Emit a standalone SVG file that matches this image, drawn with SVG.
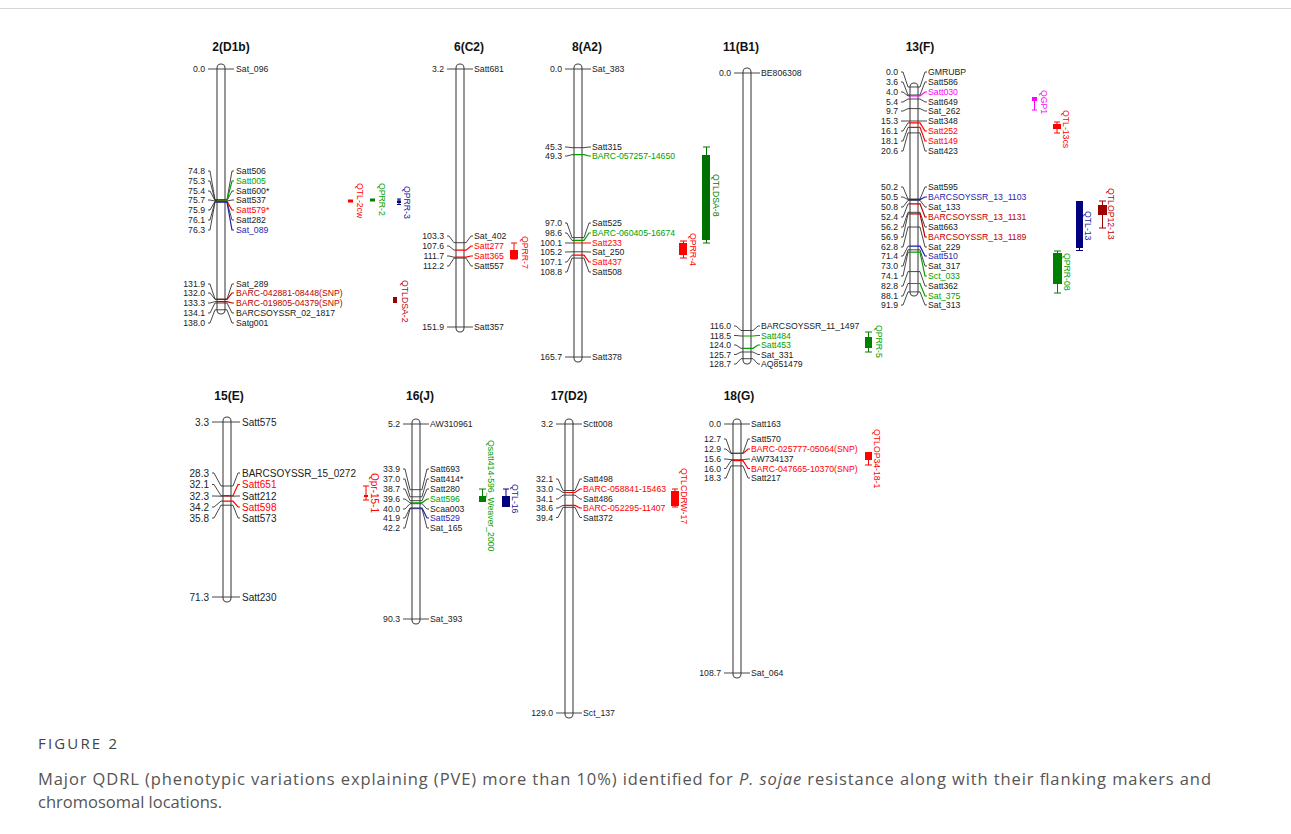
<svg xmlns="http://www.w3.org/2000/svg" width="1291" height="834" viewBox="0 0 1291 834">
<style>
.bg{fill:#fff}
.chr{fill:#fff;stroke:#444;stroke-width:1.1}
.k{fill:none;stroke:#333;stroke-width:0.9}
.g{fill:none;stroke:#00a000;stroke-width:1.2}
.r{fill:none;stroke:#ff0000;stroke-width:1.2}
.b{fill:none;stroke:#1f1fb0;stroke-width:1.2}
.c{fill:none;stroke:#c00000;stroke-width:1.2}
.m{fill:none;stroke:#ff00ff;stroke-width:1.2}
text{font-family:"Liberation Sans",Arial,sans-serif;font-size:8.7px;fill:#222}
.n{text-anchor:end}
.big{font-size:10px}
.ttl{font-size:12px;font-weight:bold;text-anchor:middle;fill:#111}
.tg{fill:#00a000}.tr{fill:#ff0000}.tb{fill:#1f1fb0}.tc{fill:#c00000}.tm{fill:#ff00ff}.tdg{fill:#008000}.tn{fill:#2020a0}
.capt{font-family:"Open Sans","Noto Sans",sans-serif;font-size:15px;fill:#444}
.cap{font-family:"Open Sans","Noto Sans",sans-serif;font-size:16.5px;fill:#555}
.w{fill:none;stroke-width:1}
</style>
<rect class="bg" x="0" y="0" width="1291" height="834"/>
<line x1="0" y1="8.5" x2="1291" y2="8.5" stroke="#d6d6d6" stroke-width="1"/>

<g id="chr-2D1b">
<text class="ttl" x="231" y="51">2(D1b)</text>
<rect class="chr" x="217" y="64" width="8" height="250" rx="4"/>
<path class="k" d="M208 69H234M208 171H210L215 199.5H227L232 171H234M208 181H210L215 200.4H217M208 191H210L215 200.6H227L232 191H234M208 200H210L215 201.1H227L232 200H234M208 210H210L215 201.4H217M208 220H210L215 201.8H227L232 220H234M208 230H210L215 202.1H217M208 284H210L215 299.2H227L232 284H234M208 293H210L215 299.3H217M208 303H210L215 301.6H217M208 313H210L215 303H227L232 313H234M208 323H210L215 309.8H227L232 323H234"/>
<path class="g" d="M217 200.4H227L232 181H234"/>
<path class="r" d="M217 201.4H227L232 210H234"/>
<path class="b" d="M217 202.1H227L232 230H234"/>
<path class="c" d="M217 299.3H227L232 293H234M217 301.6H227L232 303H234"/>
<text class="n" x="205" y="72">0.0</text><text x="236" y="72">Sat_096</text>
<text class="n" x="205" y="174">74.8</text><text x="236" y="174">Satt506</text>
<text class="n" x="205" y="184">75.3</text><text class="tg" x="236" y="184">Satt005</text>
<text class="n" x="205" y="194">75.4</text><text x="236" y="194">Satt600*</text>
<text class="n" x="205" y="203">75.7</text><text x="236" y="203">Satt537</text>
<text class="n" x="205" y="213">75.9</text><text class="tr" x="236" y="213">Satt579*</text>
<text class="n" x="205" y="223">76.1</text><text x="236" y="223">Satt282</text>
<text class="n" x="205" y="233">76.3</text><text class="tb" x="236" y="233">Sat_089</text>
<text class="n" x="205" y="287">131.9</text><text x="236" y="287">Sat_289</text>
<text class="n" x="205" y="296">132.0</text><text class="tc" x="236" y="296">BARC-042881-08448(SNP)</text>
<text class="n" x="205" y="306">133.3</text><text class="tc" x="236" y="306">BARC-019805-04379(SNP)</text>
<text class="n" x="205" y="316">134.1</text><text x="236" y="316">BARCSOYSSR_02_1817</text>
<text class="n" x="205" y="326">138.0</text><text x="236" y="326">Satg001</text>
</g>

<g id="chr-6C2">
<text class="ttl" x="469" y="51">6(C2)</text>
<rect class="chr" x="456" y="64" width="8" height="268" rx="4"/>
<path class="k" d="M447 69H473M447 236H449L454 242.7H466L471 236H473M447 246H449L454 250.1H456M447 256H449L454 257.2H456M447 266H449L454 258.1H466L471 266H473M447 327H473"/>
<path class="r" d="M456 250.1H466L471 246H473M456 257.2H466L471 256H473"/>
<text class="n" x="444" y="72">3.2</text><text x="474" y="72">Satt681</text>
<text class="n" x="444" y="239">103.3</text><text x="474" y="239">Sat_402</text>
<text class="n" x="444" y="249">107.6</text><text class="tr" x="474" y="249">Satt277</text>
<text class="n" x="444" y="259">111.7</text><text class="tr" x="474" y="259">Satt365</text>
<text class="n" x="444" y="269">112.2</text><text x="474" y="269">Satt557</text>
<text class="n" x="444" y="330">151.9</text><text x="474" y="330">Satt357</text>
</g>

<g id="chr-8A2">
<text class="ttl" x="587" y="51">8(A2)</text>
<rect class="chr" x="574" y="64" width="8" height="298" rx="4"/>
<path class="k" d="M565 69H591M565 147H567L572 147.7H584L589 147H591M565 156H567L572 154.7H574M565 223H567L572 237.6H584L589 223H591M565 233H567L572 240.4H574M565 243H574M565 252H567L572 251.8H584L589 252H591M565 262H567L572 255.1H574M565 272H567L572 258.1H584L589 272H591M565 357H591"/>
<path class="g" d="M574 154.7H584L589 156H591M574 240.4H584L589 233H591"/>
<path class="r" d="M574 243H591M574 255.1H584L589 262H591"/>
<text class="n" x="562" y="72">0.0</text><text x="592" y="72">Sat_383</text>
<text class="n" x="562" y="150">45.3</text><text x="592" y="150">Satt315</text>
<text class="n" x="562" y="159">49.3</text><text class="tg" x="592" y="159">BARC-057257-14650</text>
<text class="n" x="562" y="226">97.0</text><text x="592" y="226">Satt525</text>
<text class="n" x="562" y="236">98.6</text><text class="tg" x="592" y="236">BARC-060405-16674</text>
<text class="n" x="562" y="246">100.1</text><text class="tr" x="592" y="246">Satt233</text>
<text class="n" x="562" y="255">105.2</text><text x="592" y="255">Sat_250</text>
<text class="n" x="562" y="265">107.1</text><text class="tr" x="592" y="265">Satt437</text>
<text class="n" x="562" y="275">108.8</text><text x="592" y="275">Satt508</text>
<text class="n" x="562" y="360">165.7</text><text x="592" y="360">Satt378</text>
</g>

<g id="chr-11B1">
<text class="ttl" x="741" y="51">11(B1)</text>
<rect class="chr" x="743" y="68" width="8" height="296" rx="4"/>
<path class="k" d="M734 73H760M734 326H736L741 330.5H753L758 326H760M734 335.5H736L741 336H743M734 345H736L741 348.3H743M734 354.5H736L741 352H753L758 354.5H760M734 364H736L741 358.7H753L758 364H760"/>
<path class="g" d="M743 336H753L758 335.5H760M743 348.3H753L758 345H760"/>
<text class="n" x="731" y="76">0.0</text><text x="761" y="76">BE806308</text>
<text class="n" x="731" y="329">116.0</text><text x="761" y="329">BARCSOYSSR_11_1497</text>
<text class="n" x="731" y="338.5">118.5</text><text class="tg" x="761" y="338.5">Satt484</text>
<text class="n" x="731" y="348">124.0</text><text class="tg" x="761" y="348">Satt453</text>
<text class="n" x="731" y="357.5">125.7</text><text x="761" y="357.5">Sat_331</text>
<text class="n" x="731" y="367">128.7</text><text x="761" y="367">AQ851479</text>
</g>

<g id="chr-13F">
<text class="ttl" x="920" y="51">13(F)</text>
<rect class="chr" x="910" y="83" width="8" height="213" rx="4"/>
<path class="k" d="M901 72H903L908 87H920L925 72H927M901 82H903L908 95H920L925 82H927M901 92H903L908 95.9H910M901 102H903L908 99H920L925 102H927M901 111H903L908 108.6H920L925 111H927M901 121H927M901 131H903L908 122.9H910M901 141H903L908 127.4H910M901 151H903L908 132.9H920L925 151H927M901 187H903L908 199H920L925 187H927M901 197H903L908 199.6H910M901 207H903L908 200.3H920L925 207H927M901 217H903L908 203.9H910M901 227H903L908 212.3H920L925 227H927M901 237H903L908 213.9H910M901 247H903L908 227H920L925 247H927M901 256H903L908 246.2H910M901 266H903L908 249.8H920L925 266H927M901 276H903L908 252.2H910M901 286H903L908 271.6H920L925 286H927M901 296H903L908 283.5H910M901 305H903L908 291.9H920L925 305H927"/>
<path class="m" d="M910 95.9H920L925 92H927"/>
<path class="r" d="M910 122.9H920L925 131H927M910 127.4H920L925 141H927"/>
<path class="b" d="M910 199.6H920L925 197H927M910 246.2H920L925 256H927"/>
<path class="c" d="M910 203.9H920L925 217H927M910 213.9H920L925 237H927"/>
<path class="g" d="M910 252.2H920L925 276H927M910 283.5H920L925 296H927"/>
<text class="n" x="898" y="75">0.0</text><text x="928" y="75">GMRUBP</text>
<text class="n" x="898" y="85">3.6</text><text x="928" y="85">Satt586</text>
<text class="n" x="898" y="95">4.0</text><text class="tm" x="928" y="95">Satt030</text>
<text class="n" x="898" y="105">5.4</text><text x="928" y="105">Satt649</text>
<text class="n" x="898" y="114">9.7</text><text x="928" y="114">Sat_262</text>
<text class="n" x="898" y="124">15.3</text><text x="928" y="124">Satt348</text>
<text class="n" x="898" y="134">16.1</text><text class="tr" x="928" y="134">Satt252</text>
<text class="n" x="898" y="144">18.1</text><text class="tr" x="928" y="144">Satt149</text>
<text class="n" x="898" y="154">20.6</text><text x="928" y="154">Satt423</text>
<text class="n" x="898" y="190">50.2</text><text x="928" y="190">Satt595</text>
<text class="n" x="898" y="200">50.5</text><text class="tb" x="928" y="200">BARCSOYSSR_13_1103</text>
<text class="n" x="898" y="210">50.8</text><text x="928" y="210">Sat_133</text>
<text class="n" x="898" y="220">52.4</text><text class="tc" x="928" y="220">BARCSOYSSR_13_1131</text>
<text class="n" x="898" y="230">56.2</text><text x="928" y="230">Satt663</text>
<text class="n" x="898" y="240">56.9</text><text class="tc" x="928" y="240">BARCSOYSSR_13_1189</text>
<text class="n" x="898" y="250">62.8</text><text x="928" y="250">Sat_229</text>
<text class="n" x="898" y="259">71.4</text><text class="tb" x="928" y="259">Satt510</text>
<text class="n" x="898" y="269">73.0</text><text x="928" y="269">Sat_317</text>
<text class="n" x="898" y="279">74.1</text><text class="tg" x="928" y="279">Sct_033</text>
<text class="n" x="898" y="289">82.8</text><text x="928" y="289">Satt362</text>
<text class="n" x="898" y="299">88.1</text><text class="tg" x="928" y="299">Sat_375</text>
<text class="n" x="898" y="308">91.9</text><text x="928" y="308">Sat_313</text>
</g>

<g id="chr-15E">
<text class="ttl" x="229" y="400">15(E)</text>
<rect class="chr" x="223" y="417" width="8" height="185" rx="4"/>
<path class="k" d="M212 422H240M212 473H214L221 486H233L238 473H240M212 484.5H214L221 495.7H223M212 496H214L221 496.2H233L238 496H240M212 507H214L221 501.1H223M212 518H214L221 505.2H233L238 518H240M212 597H240"/>
<path class="r" d="M223 495.7H233L238 484.5H240M223 501.1H233L238 507H240"/>
<text class="n big" x="209" y="425.5">3.3</text><text class="big" x="242" y="425.5">Satt575</text>
<text class="n big" x="209" y="476.5">28.3</text><text class="big" x="242" y="476.5">BARCSOYSSR_15_0272</text>
<text class="n big" x="209" y="488">32.1</text><text class="big tr" x="242" y="488">Satt651</text>
<text class="n big" x="209" y="499.5">32.3</text><text class="big" x="242" y="499.5">Satt212</text>
<text class="n big" x="209" y="510.5">34.2</text><text class="big tr" x="242" y="510.5">Satt598</text>
<text class="n big" x="209" y="521.5">35.8</text><text class="big" x="242" y="521.5">Satt573</text>
<text class="n big" x="209" y="600.5">71.3</text><text class="big" x="242" y="600.5">Satt230</text>
</g>

<g id="chr-16J">
<text class="ttl" x="420" y="400">16(J)</text>
<rect class="chr" x="412" y="419" width="8" height="205" rx="4"/>
<path class="k" d="M403 424H429M403 469H405L410 489.7H422L427 469H429M403 479H405L410 496.8H422L427 479H429M403 489H405L410 500.7H422L427 489H429M403 499H405L410 502.8H412M403 509H405L410 503.7H422L427 509H429M403 518H405L410 508H412M403 528H405L410 508.7H422L427 528H429M403 619H429"/>
<path class="g" d="M412 502.8H422L427 499H429"/>
<path class="b" d="M412 508H422L427 518H429"/>
<text class="n" x="400" y="427">5.2</text><text x="430" y="427">AW310961</text>
<text class="n" x="400" y="472">33.9</text><text x="430" y="472">Satt693</text>
<text class="n" x="400" y="482">37.0</text><text x="430" y="482">Satt414*</text>
<text class="n" x="400" y="492">38.7</text><text x="430" y="492">Satt280</text>
<text class="n" x="400" y="502">39.6</text><text class="tg" x="430" y="502">Satt596</text>
<text class="n" x="400" y="512">40.0</text><text x="430" y="512">Scaa003</text>
<text class="n" x="400" y="521">41.9</text><text class="tb" x="430" y="521">Satt529</text>
<text class="n" x="400" y="531">42.2</text><text x="430" y="531">Sat_165</text>
<text class="n" x="400" y="622">90.3</text><text x="430" y="622">Sat_393</text>
</g>

<g id="chr-17D2">
<text class="ttl" x="569" y="400">17(D2)</text>
<rect class="chr" x="565" y="419" width="8" height="299" rx="4"/>
<path class="k" d="M556 424H582M556 479H558L563 490.5H575L580 479H582M556 489H558L563 492.5H565M556 499H558L563 495.1H575L580 499H582M556 508H558L563 505.4H565M556 517.5H558L563 507.3H575L580 517.5H582M556 713H582"/>
<path class="r" d="M565 492.5H575L580 489H582M565 505.4H575L580 508H582"/>
<text class="n" x="553" y="427">3.2</text><text x="583" y="427">Sctt008</text>
<text class="n" x="553" y="482">32.1</text><text x="583" y="482">Satt498</text>
<text class="n" x="553" y="492">33.0</text><text class="tr" x="583" y="492">BARC-058841-15463</text>
<text class="n" x="553" y="502">34.1</text><text x="583" y="502">Satt486</text>
<text class="n" x="553" y="511">38.6</text><text class="tr" x="583" y="511">BARC-052295-11407</text>
<text class="n" x="553" y="520.5">39.4</text><text x="583" y="520.5">Satt372</text>
<text class="n" x="553" y="716">129.0</text><text x="583" y="716">Sct_137</text>
</g>

<g id="chr-18G">
<text class="ttl" x="739" y="400">18(G)</text>
<rect class="chr" x="733" y="419" width="8" height="259" rx="4"/>
<path class="k" d="M724 424H750M724 439H726L731 453.1H743L748 439H750M724 449H726L731 453.5H733M724 459H726L731 459.7H743L748 459H750M724 468.5H726L731 460.6H733M724 478H726L731 465.9H743L748 478H750M724 673H750"/>
<path class="r" d="M733 453.5H743L748 449H750M733 460.6H743L748 468.5H750"/>
<text class="n" x="721" y="427">0.0</text><text x="751" y="427">Satt163</text>
<text class="n" x="721" y="442">12.7</text><text x="751" y="442">Satt570</text>
<text class="n" x="721" y="452">12.9</text><text class="tr" x="751" y="452">BARC-025777-05064(SNP)</text>
<text class="n" x="721" y="462">15.6</text><text x="751" y="462">AW734137</text>
<text class="n" x="721" y="471.5">16.0</text><text class="tr" x="751" y="471.5">BARC-047665-10370(SNP)</text>
<text class="n" x="721" y="481">18.3</text><text x="751" y="481">Satt217</text>
<text class="n" x="721" y="676">108.7</text><text x="751" y="676">Sat_064</text>
</g>

<g id="qtl-QTL-2cw">
<rect x="348" y="199.5" width="5" height="3" fill="#ff0000"/>
<text class="tr" transform="translate(357,183) rotate(90)">QTL-2cw</text>
</g>
<g id="qtl-QPRR-2">
<rect x="370" y="198.5" width="5" height="3" fill="#008000"/>
<text class="tg" transform="translate(379,183) rotate(90)">QPRR-2</text>
</g>
<g id="qtl-QPRR-3">
<path class="w" stroke="#000080" d="M397 199H401M399 199V204.5M397 204.5H401"/>
<rect x="397" y="200.5" width="4" height="2.5" fill="#000080"/>
<text class="tn" transform="translate(404,186) rotate(90)">QPRR-3</text>
</g>
<g id="qtl-QTLDSA-2">
<rect x="393" y="297" width="4" height="6" fill="#990000"/>
<text class="tc" transform="translate(402,280) rotate(90)">QTLDSA-2</text>
</g>
<g id="qtl-QPRR-7">
<path class="w" stroke="#ff0000" d="M511 243H517M514 243V259M511 259H517"/>
<rect x="510" y="250" width="8" height="9" fill="#ff0000"/>
<text class="tr" transform="translate(522,236) rotate(90)">QPRR-7</text>
</g>
<g id="qtl-QTLDSA-8">
<path class="w" stroke="#007000" d="M703 147H710M706.5 147V243M703 243H710"/>
<rect x="702" y="155" width="8" height="85" fill="#007000"/>
<text class="tdg" transform="translate(713,174) rotate(90)">QTLDSA-8</text>
</g>
<g id="qtl-QPRR-4">
<path class="w" stroke="#ff0000" d="M680 241H687M683.5 241V258M680 258H687"/>
<rect x="679" y="243" width="8" height="12" fill="#ff0000"/>
<text class="tr" transform="translate(690,233) rotate(90)">QPRR-4</text>
</g>
<g id="qtl-QPRR-5">
<path class="w" stroke="#008000" d="M865 332H872M868.5 332V352M865 352H872"/>
<rect x="865" y="337" width="7" height="11" fill="#008000"/>
<text class="tg" transform="translate(876,325) rotate(90)">QPRR-5</text>
</g>
<g id="qtl-QGP1">
<path class="w" stroke="#ff00ff" d="M1034.5 101V110M1032 110H1037"/>
<rect x="1032" y="97" width="5" height="4" fill="#ff00ff"/>
<text class="tm" transform="translate(1041,90) rotate(90)">QGP1</text>
</g>
<g id="qtl-QTL-13cs">
<path class="w" stroke="#ff0000" d="M1054 122H1060M1057 122V133M1054 133H1060"/>
<rect x="1053" y="124" width="8" height="5" fill="#ff0000"/>
<text class="tr" transform="translate(1063,110) rotate(90)">QTL-13cs</text>
</g>
<g id="qtl-QTL-13">
<path class="w" stroke="#000080" d="M1079.5 248V250.5M1076 250.5H1083"/>
<rect x="1076" y="201" width="7" height="47" fill="#000080"/>
<text class="tn" transform="translate(1085,211) rotate(90)">QTL-13</text>
</g>
<g id="qtl-QTLOP12-13">
<path class="w" stroke="#a00000" d="M1099 201H1106M1102.5 201V228M1099 228H1106"/>
<rect x="1098" y="205" width="9" height="10" fill="#a00000"/>
<text class="tc" transform="translate(1108,188) rotate(90)">QTLOP12-13</text>
</g>
<g id="qtl-QPRR-08">
<path class="w" stroke="#008000" d="M1054 251H1061M1057.5 251V293M1054 293H1061"/>
<rect x="1053" y="253" width="9" height="31" fill="#008000"/>
<text class="tg" transform="translate(1064,253) rotate(90)">QPRR-08</text>
</g>
<g id="qtl-Qpr-15-1">
<path class="w" stroke="#ff0000" d="M363 486H369M366 486V500M363 500H369"/>
<rect x="364" y="495" width="4" height="2" fill="#ff0000"/>
<text class="tr big" transform="translate(371,473) rotate(90)">Qpr-15-1</text>
</g>
<g id="qtl-Qsatt414-596">
<path class="w" stroke="#008000" d="M479 489H486M482.5 489V496"/>
<rect x="479" y="496" width="7" height="6" fill="#008000"/>
<text class="tg" transform="translate(488,440) rotate(90)">Qsatt414-596_Weaver_2000</text>
</g>
<g id="qtl-QTL-16">
<path class="w" stroke="#000080" d="M503 489H509M506 489V496"/>
<rect x="502" y="496" width="8" height="11" fill="#000080"/>
<text class="tn" transform="translate(512,484) rotate(90)">QTL-16</text>
</g>
<g id="qtl-QTLCDRW-17">
<path class="w" stroke="#ff0000" d="M672 489H678M675 489V507M672 507H678"/>
<rect x="671" y="491" width="8" height="15" fill="#ff0000"/>
<text class="tr" transform="translate(681,468) rotate(90)">QTLCDRW-17</text>
</g>
<g id="qtl-QTLOP34-18-1">
<path class="w" stroke="#ff0000" d="M868.5 460V465M865 465H872"/>
<rect x="865" y="452" width="7" height="8" fill="#ff0000"/>
<text class="tr" transform="translate(874,429) rotate(90)">QTLOP34-18-1</text>
</g>

<g id="caption">
<text class="capt" x="38" y="749" textLength="79" lengthAdjust="spacing">FIGURE 2</text>
<text class="cap" x="38" y="785" textLength="1173" lengthAdjust="spacing">Major QDRL (phenotypic variations explaining (PVE) more than 10%) identified for <tspan font-style="italic">P. sojae</tspan> resistance along with their flanking makers and</text>
<text class="cap" x="38" y="808">chromosomal locations.</text>
</g>
</svg>
